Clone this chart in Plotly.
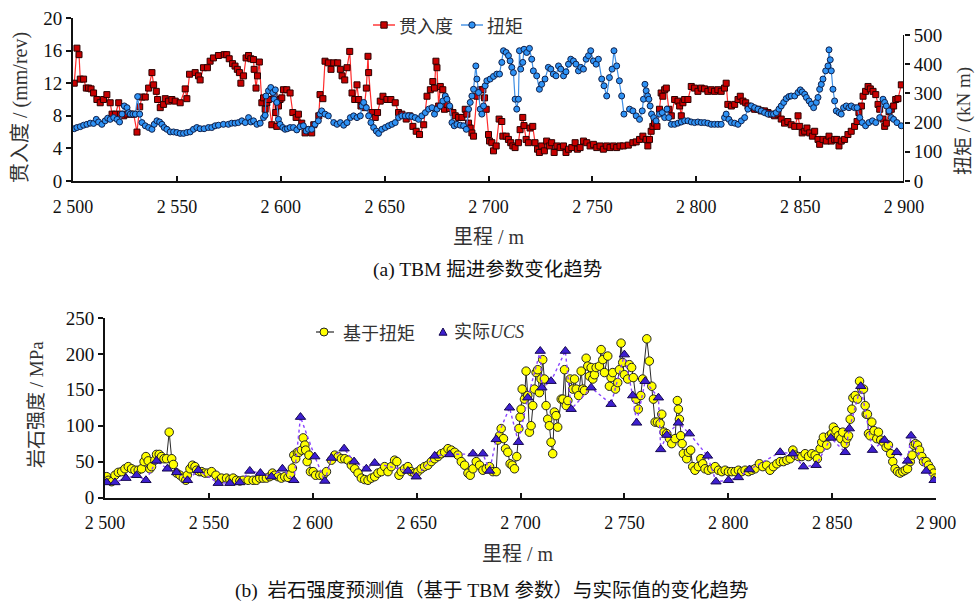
import plotly.graph_objects as go

# ---------------- data ----------------
# (a) penetration rate, mm/rev
pen_km = [2500.6, 2501.9, 2502.9, 2503.5, 2505.1, 2506.4, 2507.5, 2508.7, 2509.9, 2511.5,
          2513.1, 2514.7, 2516.3, 2517.9, 2518.8, 2520.4, 2522.0, 2522.8, 2524.4, 2526.0,
          2527.6, 2529.2, 2530.8, 2532.1, 2533.2, 2534.8, 2536.4, 2538.0, 2538.8, 2540.1,
          2540.7, 2542.0, 2543.6, 2544.4, 2546.0, 2547.6, 2549.2, 2551.6, 2554.0, 2554.8,
          2556.1, 2558.8, 2560.4, 2561.2, 2562.8, 2564.7, 2566.0, 2567.6, 2570.0, 2572.8,
          2574.0, 2575.2, 2576.8, 2578.0, 2579.1, 2580.1, 2580.8, 2582.1, 2583.3, 2584.5,
          2585.6, 2586.9, 2587.2, 2588.1, 2588.8, 2589.7, 2590.9, 2591.7, 2592.5, 2593.3,
          2594.1, 2595.7, 2596.8, 2597.6, 2598.1, 2598.9, 2599.7, 2600.5, 2601.3, 2602.9,
          2604.5, 2605.8, 2607.4, 2608.5, 2610.1, 2611.7, 2612.5, 2614.9, 2615.9, 2618.3,
          2618.9, 2620.3, 2621.3, 2622.9, 2624.2, 2625.5, 2627.4, 2628.7, 2629.5, 2630.8,
          2631.9, 2633.2, 2634.3, 2635.6, 2636.7, 2637.5, 2638.6, 2640.2, 2641.2, 2642.0,
          2642.3, 2643.9, 2645.5, 2646.6, 2647.9, 2649.2, 2651.1, 2653.0, 2655.1, 2656.7,
          2658.3, 2660.4, 2662.0, 2663.6, 2665.2, 2666.8, 2668.8, 2670.4, 2672.0, 2673.2,
          2674.0, 2674.7, 2675.2, 2676.0, 2676.8, 2678.0, 2678.8, 2680.0, 2681.3, 2682.9,
          2684.0, 2685.6, 2687.2, 2688.8, 2689.6, 2690.4, 2691.2, 2692.0, 2692.8, 2694.4,
          2696.0, 2697.3, 2698.1, 2698.9, 2700.0, 2700.5, 2701.6, 2702.4, 2703.7, 2705.1,
          2706.4, 2706.9, 2708.5, 2709.6, 2710.7, 2711.7, 2712.8, 2714.4, 2715.2, 2716.5,
          2717.1, 2718.1, 2719.2, 2720.0, 2721.3, 2722.4, 2723.6, 2724.5, 2725.6, 2726.9,
          2728.0, 2729.3, 2730.4, 2731.6, 2732.9, 2734.5, 2736.1, 2737.3, 2738.5, 2740.1,
          2741.7, 2742.8, 2744.1, 2745.7, 2747.3, 2748.9, 2750.5, 2752.1, 2753.7, 2755.3,
          2756.9, 2758.5, 2760.1, 2761.7, 2763.3, 2764.9, 2767.3, 2769.5, 2771.1, 2772.7,
          2774.3, 2775.9, 2776.7, 2777.5, 2778.3, 2779.1, 2779.9, 2781.1, 2782.3, 2783.1,
          2783.9, 2784.8, 2785.6, 2786.8, 2788.0, 2789.6, 2791.2, 2792.0, 2792.8, 2793.6,
          2794.4, 2796.0, 2797.6, 2799.2, 2800.8, 2802.4, 2804.0, 2805.6, 2807.2, 2808.8,
          2810.4, 2812.0, 2813.6, 2814.4, 2815.2, 2816.9, 2818.5, 2820.1, 2821.2, 2822.5,
          2823.8, 2824.9, 2826.5, 2828.1, 2829.7, 2831.3, 2832.9, 2834.5, 2836.1, 2837.7,
          2839.3, 2840.9, 2842.5, 2844.1, 2845.7, 2847.4, 2849.0, 2849.8, 2851.0, 2852.2,
          2853.3, 2854.6, 2855.9, 2857.0, 2858.6, 2859.4, 2861.0, 2862.6, 2863.9, 2865.0,
          2866.6, 2867.7, 2868.7, 2869.8, 2871.4, 2873.0, 2874.6, 2876.2, 2877.4, 2878.3,
          2879.5, 2880.3, 2881.5, 2882.7, 2883.8, 2885.1, 2886.4, 2887.5, 2888.3, 2889.9,
          2890.7, 2891.5, 2892.8, 2893.9, 2895.0, 2896.0, 2897.1, 2898.7]
pen_val = [12.0, 16.3, 15.5, 12.5, 12.5, 11.4, 11.4, 11.3, 10.8, 10.0,
           9.6, 10.0, 10.6, 9.6, 8.2, 8.2, 9.6, 8.2, 8.0, 8.2,
           8.2, 8.2, 6.0, 9.1, 10.3, 10.3, 11.4, 13.3, 11.8, 11.0,
           10.0, 9.0, 9.4, 10.1, 9.8, 10.0, 9.8, 9.6, 11.3, 10.1,
           13.1, 13.3, 12.9, 12.4, 13.9, 13.9, 14.7, 15.1, 15.4, 15.5,
           15.5, 15.0, 14.4, 14.1, 13.7, 13.3, 12.0, 12.9, 15.1, 15.4,
           15.0, 14.9, 13.7, 11.4, 12.9, 14.6, 9.6, 10.2, 8.8, 9.6,
           10.0, 6.9, 10.4, 8.4, 6.7, 9.2, 10.0, 10.2, 11.2, 11.2,
           10.8, 8.4, 7.8, 8.2, 7.1, 5.9, 6.3, 5.9, 6.9, 8.0,
           10.6, 10.1, 14.7, 14.5, 13.7, 14.5, 14.5, 13.7, 12.9, 12.4,
           13.9, 15.9, 10.8, 10.0, 11.8, 10.0, 9.2, 9.0, 11.4, 15.3,
           13.3, 8.4, 7.8, 8.4, 9.8, 10.4, 10.0, 10.0, 9.6, 8.4,
           8.2, 7.6, 8.0, 6.7, 6.1, 5.7, 6.9, 10.4, 11.2, 12.2,
           11.4, 14.7, 13.9, 9.2, 11.6, 11.2, 8.8, 9.4, 8.9, 8.4,
           8.0, 7.8, 7.8, 8.8, 8.2, 7.1, 6.5, 5.9, 5.5, 10.4,
           11.2, 11.2, 10.2, 8.8, 5.7, 4.9, 4.7, 3.7, 4.3, 7.6,
           7.3, 5.5, 5.5, 5.1, 4.7, 4.3, 4.1, 4.7, 6.3, 7.8,
           6.8, 5.1, 4.7, 6.5, 6.7, 4.7, 3.9, 3.5, 4.3, 3.7,
           4.9, 4.3, 4.7, 3.5, 4.3, 4.1, 4.3, 3.5, 3.9, 4.1,
           4.7, 3.9, 4.1, 4.9, 4.7, 4.3, 4.5, 4.1, 4.3, 3.9,
           4.3, 4.1, 4.3, 4.1, 4.3, 4.3, 4.4, 4.7, 4.8, 5.1,
           5.5, 5.1, 4.3, 5.1, 6.1, 6.7, 7.1, 6.7, 8.8, 10.8,
           10.4, 11.2, 11.4, 8.8, 8.0, 10.0, 9.8, 9.2, 8.0, 9.6,
           10.0, 10.0, 11.6, 11.4, 11.0, 11.4, 11.3, 11.0, 11.2, 11.0,
           11.2, 11.0, 11.4, 12.0, 9.4, 9.2, 9.4, 10.0, 10.4, 9.8,
           9.6, 9.2, 9.0, 8.8, 8.8, 8.6, 8.6, 8.4, 8.2, 8.0,
           8.2, 7.6, 7.1, 7.3, 6.9, 6.7, 8.0, 6.7, 5.9, 6.1,
           6.5, 5.9, 5.5, 6.1, 5.1, 4.5, 5.1, 4.9, 5.5, 4.9,
           5.1, 5.1, 4.3, 4.9, 5.1, 5.7, 6.1, 6.7, 7.3, 8.4,
           9.2, 10.4, 11.0, 11.6, 11.3, 11.0, 10.6, 9.4, 8.8, 7.6,
           6.7, 7.1, 8.5, 8.8, 9.2, 10.0, 10.1, 11.8]

# (a) cutterhead torque, kN m
tq_km = [2500.6, 2501.9, 2503.5, 2505.1, 2506.7, 2508.3, 2509.9, 2511.2, 2512.3, 2513.9,
         2515.5, 2516.7, 2517.9, 2519.6, 2521.2, 2522.4, 2523.6, 2524.7, 2526.0, 2526.8,
         2527.6, 2528.8, 2530.0, 2531.1, 2532.1, 2533.2, 2534.8, 2536.4, 2538.0, 2539.1,
         2540.4, 2541.7, 2542.8, 2543.9, 2545.2, 2546.8, 2548.4, 2550.0, 2551.6, 2553.2,
         2554.8, 2556.4, 2558.0, 2559.6, 2561.2, 2563.1, 2565.2, 2566.8, 2568.4, 2570.0,
         2572.4, 2574.8, 2576.4, 2578.0, 2579.6, 2581.3, 2582.9, 2584.5, 2585.6, 2586.9,
         2588.5, 2590.1, 2591.7, 2592.5, 2592.9, 2594.1, 2595.2, 2596.2, 2596.8, 2597.4,
         2598.1, 2598.9, 2599.7, 2601.0, 2602.1, 2603.2, 2604.5, 2606.1, 2607.7, 2609.3,
         2610.9, 2612.2, 2613.3, 2614.9, 2616.5, 2618.1, 2618.9, 2619.7, 2621.3, 2622.9,
         2625.5, 2627.1, 2628.7, 2630.3, 2631.9, 2633.5, 2635.1, 2636.7, 2638.3, 2639.1,
         2639.9, 2641.2, 2642.3, 2643.4, 2644.7, 2646.0, 2647.1, 2648.7, 2650.3, 2651.9,
         2653.5, 2655.1, 2656.7, 2658.3, 2659.9, 2661.5, 2663.1, 2664.7, 2666.3, 2667.9,
         2669.6, 2671.2, 2672.8, 2674.0, 2675.2, 2676.8, 2678.0, 2679.2, 2680.0, 2681.3,
         2682.4, 2683.5, 2684.8, 2686.4, 2688.0, 2689.3, 2690.4, 2691.2, 2692.0, 2692.8,
         2693.9, 2694.4, 2695.2, 2696.0, 2696.8, 2697.6, 2698.4, 2699.2, 2700.8, 2702.4,
         2704.0, 2705.3, 2706.4, 2707.2, 2708.5, 2709.6, 2710.4, 2711.2, 2712.0, 2712.8,
         2713.6, 2714.4, 2714.9, 2715.5, 2716.5, 2717.1, 2718.4, 2719.7, 2720.8, 2721.6,
         2723.2, 2724.5, 2725.6, 2727.2, 2728.8, 2730.0, 2731.2, 2732.5, 2733.7, 2734.8,
         2736.1, 2737.3, 2738.5, 2739.6, 2740.9, 2742.1, 2743.3, 2744.4, 2745.7, 2747.0,
         2748.1, 2749.2, 2750.5, 2751.8, 2752.9, 2754.5, 2755.6, 2756.9, 2758.2, 2759.5,
         2760.4, 2761.7, 2763.0, 2764.1, 2765.2, 2767.9, 2769.5, 2771.1, 2772.7, 2774.0,
         2774.6, 2775.3, 2775.9, 2776.6, 2777.2, 2777.8, 2778.5, 2779.5, 2780.7, 2782.3,
         2783.6, 2784.8, 2785.9, 2786.8, 2788.0, 2789.6, 2791.2, 2792.8, 2794.4, 2796.0,
         2797.6, 2799.2, 2800.8, 2802.4, 2804.0, 2805.6, 2807.2, 2808.8, 2810.4, 2812.0,
         2813.6, 2814.4, 2815.7, 2816.9, 2818.5, 2820.1, 2821.7, 2823.3, 2824.9, 2826.5,
         2828.1, 2829.7, 2831.3, 2832.9, 2834.5, 2836.1, 2837.2, 2838.5, 2839.8, 2840.9,
         2842.1, 2843.3, 2844.6, 2845.7, 2847.4, 2849.0, 2850.1, 2851.0, 2852.2, 2853.0,
         2854.3, 2855.4, 2856.5, 2857.8, 2858.6, 2859.4, 2860.2, 2861.0, 2862.3, 2863.4,
         2863.9, 2864.5, 2865.0, 2865.8, 2866.6, 2867.4, 2868.7, 2869.8, 2870.9, 2872.2,
         2873.5, 2874.6, 2876.2, 2877.4, 2878.7, 2879.9, 2881.5, 2883.1, 2884.8, 2886.4,
         2888.3, 2889.9, 2890.7, 2891.5, 2892.8, 2893.9, 2895.0, 2896.6, 2898.7]
tq_val = [179, 183, 186, 191, 194, 198, 197, 211, 202, 194,
          206, 215, 211, 217, 211, 202, 229, 257, 251, 234,
          229, 229, 229, 289, 229, 200, 189, 183, 177, 194,
          206, 202, 194, 183, 177, 168, 168, 166, 163, 163,
          166, 168, 177, 183, 179, 179, 183, 183, 189, 191,
          194, 194, 198, 198, 200, 206, 200, 217, 202, 206,
          194, 198, 217, 225, 291, 309, 320, 303, 280, 312,
          269, 211, 194, 183, 177, 179, 183, 183, 175, 186,
          189, 171, 177, 177, 194, 206, 229, 240, 229, 223,
          200, 194, 200, 191, 200, 217, 223, 217, 223, 257,
          269, 251, 223, 200, 183, 171, 163, 177, 183, 189,
          194, 200, 217, 223, 223, 223, 221, 217, 211, 223,
          234, 246, 251, 229, 246, 257, 274, 291, 280, 257,
          200, 189, 194, 191, 189, 177, 246, 269, 291, 314,
          394, 349, 303, 246, 229, 257, 326, 343, 349, 358,
          366, 366, 406, 446, 440, 429, 411, 389, 371, 280,
          246, 280, 446, 383, 406, 451, 440, 454, 417, 377,
          360, 314, 331, 349, 389, 383, 366, 360, 394, 383,
          360, 374, 400, 417, 411, 400, 377, 389, 383, 417,
          429, 446, 411, 400, 417, 349, 326, 291, 354, 383,
          446, 394, 343, 291, 229, 246, 240, 223, 211, 240,
          280, 331, 309, 291, 280, 257, 229, 217, 206, 229,
          234, 217, 246, 217, 194, 194, 198, 202, 206, 206,
          202, 200, 202, 200, 200, 198, 194, 194, 194, 194,
          217, 229, 211, 200, 198, 194, 206, 217, 246, 257,
          251, 246, 240, 234, 229, 229, 229, 234, 246, 257,
          269, 282, 289, 291, 291, 303, 312, 305, 297, 286,
          274, 263, 251, 269, 286, 314, 331, 349, 377, 394,
          449, 415, 377, 314, 274, 240, 234, 229, 251, 257,
          251, 257, 251, 251, 217, 200, 189, 200, 206, 200,
          217, 280, 269, 257, 240, 217, 211, 200, 189]

# (b) rock strength predicted from torque, MPa
pred_km = [2500.8, 2501.6, 2503.2, 2504.8, 2506.4, 2508.0, 2509.6, 2511.2, 2512.8, 2514.4,
           2516.0, 2517.6, 2518.8, 2519.7, 2520.8, 2521.6, 2522.4, 2524.0, 2524.8, 2526.1,
           2527.2, 2528.4, 2529.6, 2530.9, 2532.1, 2532.9, 2534.5, 2536.1, 2537.7, 2538.9,
           2539.6, 2540.9, 2542.1, 2543.3, 2544.1, 2545.4, 2546.5, 2548.1, 2549.7, 2551.3,
           2553.4, 2555.0, 2556.1, 2558.5, 2560.1, 2561.7, 2563.3, 2564.9, 2566.5, 2568.9,
           2571.3, 2572.9, 2574.5, 2576.1, 2577.7, 2579.3, 2580.6, 2581.7, 2583.3, 2584.9,
           2586.5, 2588.1, 2589.3, 2590.2, 2590.9, 2591.8, 2592.6, 2593.4, 2594.6, 2595.4,
           2596.2, 2596.6, 2597.3, 2598.2, 2598.9, 2600.2, 2601.4, 2603.4, 2605.0, 2606.6,
           2609.0, 2610.6, 2612.2, 2613.8, 2615.4, 2617.0, 2618.6, 2620.2, 2621.8, 2623.4,
           2625.0, 2626.6, 2628.2, 2629.8, 2631.4, 2633.0, 2634.6, 2636.2, 2637.8, 2639.4,
           2640.5, 2641.5, 2642.6, 2644.2, 2645.8, 2647.4, 2649.0, 2650.6, 2652.2, 2653.8,
           2655.4, 2657.1, 2658.7, 2660.3, 2661.9, 2663.5, 2665.1, 2666.7, 2668.3, 2669.9,
           2671.5, 2673.1, 2674.7, 2675.8, 2677.1, 2678.7, 2680.3, 2681.9, 2683.5, 2685.1,
           2686.7, 2688.3, 2689.1, 2689.9, 2690.7, 2691.8, 2692.8, 2693.9, 2695.0, 2696.0,
           2697.1, 2698.2, 2699.2, 2699.8, 2700.3, 2700.8, 2701.9, 2702.7, 2703.5, 2704.3,
           2705.1, 2705.9, 2706.7, 2707.5, 2708.3, 2709.1, 2709.9, 2710.7, 2711.5, 2712.3,
           2713.1, 2713.9, 2714.7, 2715.5, 2716.3, 2717.1, 2717.9, 2719.6, 2720.4, 2721.2,
           2722.0, 2722.8, 2723.9, 2725.2, 2726.0, 2726.8, 2728.0, 2729.2, 2730.0, 2730.8,
           2731.6, 2732.4, 2733.2, 2734.0, 2734.8, 2735.6, 2736.4, 2738.0, 2738.8, 2739.6,
           2740.4, 2742.0, 2742.8, 2743.6, 2744.4, 2745.7, 2746.8, 2747.6, 2748.4, 2749.2,
           2750.0, 2751.6, 2752.4, 2753.5, 2754.3, 2755.6, 2756.7, 2757.9, 2758.8, 2760.8,
           2762.0, 2763.2, 2764.0, 2764.8, 2765.9, 2767.2, 2768.0, 2769.1, 2770.4, 2771.7,
           2772.8, 2774.4, 2775.5, 2776.0, 2776.5, 2777.1, 2777.8, 2778.4, 2780.0, 2780.8,
           2781.9, 2782.9, 2784.0, 2785.6, 2786.8, 2787.7, 2788.8, 2790.4, 2792.1, 2793.7,
           2795.3, 2796.9, 2798.5, 2800.1, 2801.7, 2803.3, 2804.9, 2806.5, 2808.1, 2809.7,
           2811.3, 2812.9, 2815.0, 2816.6, 2818.5, 2820.1, 2821.7, 2823.4, 2825.0, 2826.6,
           2828.2, 2829.8, 2831.1, 2832.2, 2833.8, 2835.4, 2837.0, 2838.6, 2840.2, 2841.8,
           2842.9, 2844.2, 2845.0, 2845.8, 2847.4, 2848.7, 2849.8, 2850.6, 2851.9, 2853.0,
           2854.2, 2855.1, 2856.3, 2857.1, 2857.9, 2858.7, 2859.5, 2860.0, 2861.1, 2862.2,
           2863.2, 2864.3, 2865.1, 2865.9, 2866.4, 2867.0, 2867.5, 2868.3, 2869.1, 2870.2,
           2871.5, 2872.3, 2873.4, 2874.7, 2876.0, 2877.1, 2878.2, 2879.2, 2880.3, 2881.5,
           2882.7, 2884.0, 2885.2, 2886.3, 2887.6, 2888.5, 2889.2, 2890.1, 2891.1, 2892.1,
           2893.2, 2894.0, 2895.3, 2896.4, 2897.5, 2898.8, 2899.6]
pred_ucs = [29, 24, 22, 31, 35, 36, 40, 43, 40, 38,
            38, 40, 50, 57, 51, 40, 43, 52, 60, 60,
            57, 54, 54, 91, 54, 46, 34, 31, 27, 24,
            31, 40, 45, 43, 38, 36, 36, 34, 34, 36,
            31, 24, 27, 27, 25, 27, 24, 23, 24, 24,
            24, 24, 27, 27, 27, 29, 34, 31, 29, 27,
            29, 28, 32, 41, 59, 54, 63, 63, 66, 83,
            73, 66, 50, 59, 36, 36, 31, 31, 31, 36,
            52, 59, 57, 54, 54, 52, 45, 40, 34, 27,
            25, 24, 27, 29, 34, 36, 43, 36, 43, 52,
            50, 31, 36, 40, 43, 36, 34, 36, 40, 43,
            45, 50, 54, 57, 61, 63, 68, 66, 63, 59,
            50, 45, 34, 31, 40, 50, 45, 38, 40, 43,
            36, 36, 80, 86, 96, 82, 68, 63, 47, 45,
            40, 57, 96, 112, 123, 151, 137, 176, 142, 91,
            100, 128, 151, 174, 178, 146, 165, 192, 165, 128,
            109, 100, 77, 61, 119, 114, 98, 137, 137, 178,
            128, 135, 165, 151, 165, 151, 142, 176, 151, 149,
            194, 183, 169, 181, 165, 171, 181, 183, 206, 192,
            174, 197, 155, 167, 174, 151, 160, 178, 215, 188,
            171, 165, 185, 181, 167, 137, 123, 142, 165, 221,
            190, 155, 137, 105, 105, 103, 116, 91, 89, 82,
            75, 82, 135, 123, 109, 86, 75, 61, 54, 63,
            66, 43, 38, 43, 54, 47, 40, 38, 40, 43,
            38, 36, 38, 36, 36, 36, 38, 36, 38, 36,
            38, 40, 47, 43, 45, 38, 43, 47, 50, 50,
            52, 54, 66, 59, 57, 57, 61, 57, 61, 59,
            54, 68, 77, 84, 73, 86, 89, 98, 93, 86,
            82, 91, 75, 82, 86, 109, 123, 139, 142, 137,
            162, 151, 151, 128, 116, 116, 89, 86, 105, 93,
            82, 91, 80, 77, 70, 73, 61, 50, 40, 36,
            34, 36, 38, 40, 50, 59, 73, 75, 73, 66,
            57, 50, 50, 45, 40, 34, 27]

# (b) measured UCS, MPa
act_km = [2500.8, 2504.8, 2510.1, 2515.2, 2519.7, 2524.8, 2530.0, 2534.5, 2539.7, 2544.9,
          2554.5, 2560.1, 2564.9, 2569.7, 2574.8, 2580.1, 2585.4, 2590.9, 2594.1, 2601.0,
          2605.8, 2609.0, 2615.1, 2619.9, 2625.8, 2629.8, 2645.8, 2649.8, 2658.7, 2665.9,
          2677.1, 2681.9, 2685.1, 2688.3, 2694.7, 2699.0, 2703.5, 2709.5, 2710.3, 2714.7,
          2721.6, 2724.4, 2734.0, 2743.6, 2750.0, 2754.0, 2755.9, 2760.0, 2766.4, 2767.5,
          2770.4, 2776.0, 2781.3, 2790.0, 2794.1, 2800.1, 2804.9, 2810.2, 2825.0, 2831.1,
          2836.2, 2842.3, 2849.4, 2856.3, 2858.3, 2863.8, 2869.4, 2875.2, 2881.1, 2886.3,
          2888.0, 2895.3, 2899.1]
act_ucs = [21, 21, 27, 31, 24, 51, 40, 35, 24, 38,
           20, 20, 21, 37, 34, 29, 40, 24, 112, 57,
           23, 55, 68, 50, 40, 48, 37, 29, 58, 60,
           61, 61, 37, 81, 125, 77, 139, 204, 153, 162,
           204, 123, 153, 130, 199, 142, 104, 162, 139, 67,
           87, 104, 89, 58, 22, 24, 28, 39, 63, 61,
           43, 45, 83, 63, 96, 155, 66, 80, 63, 51,
           86, 37, 24]

x_ticks = [2500, 2550, 2600, 2650, 2700, 2750, 2800, 2850, 2900]
x_ticktext = ["2 500", "2 550", "2 600", "2 650", "2 700", "2 750", "2 800", "2 850", "2 900"]
pen_ticks = [0, 4, 8, 12, 16, 20]
tq_ticks = [0, 100, 200, 300, 400, 500]
ucs_ticks = [0, 50, 100, 150, 200, 250]

# ---------------- styling ----------------
W, H = 976, 604
def px(v):
    return v / W
def py(v):
    return 1 - v / H

NUM = "Liberation Serif, 'Times New Roman', serif"
MIX = "Liberation Serif, 'Noto Sans CJK SC', serif"
CJK = "'Noto Sans CJK SC', sans-serif"

RED_LINE, RED_FILL = "#ff2b2b", "#c80000"
BLUE_LINE, BLUE_FILL = "#3f8fe4", "#2f93f5"
YEL_FILL = "#ffff00"
TRI_FILL, TRI_LINE = "#3d1fd0", "#8a44ff"

fig = go.Figure()
fig.add_trace(go.Scatter(
    x=pen_km, y=pen_val, mode="lines+markers", xaxis="x", yaxis="y",
    line=dict(color=RED_LINE, width=1.2),
    marker=dict(symbol="square", size=6, color=RED_FILL, line=dict(color="#2a0000", width=1)),
    showlegend=False))
fig.add_trace(go.Scatter(
    x=tq_km, y=tq_val, mode="lines+markers", xaxis="x", yaxis="y2",
    line=dict(color=BLUE_LINE, width=1.2),
    marker=dict(symbol="circle", size=6, color=BLUE_FILL, line=dict(color="#10204a", width=1)),
    showlegend=False))
fig.add_trace(go.Scatter(
    x=pred_km, y=pred_ucs, mode="lines+markers", xaxis="x2", yaxis="y3",
    line=dict(color="#2a2a2a", width=1),
    marker=dict(symbol="circle", size=8.5, color=YEL_FILL, line=dict(color="#222222", width=1)),
    showlegend=False))
fig.add_trace(go.Scatter(
    x=act_km, y=act_ucs, mode="lines", xaxis="x2", yaxis="y3",
    line=dict(color=TRI_LINE, width=1.4, dash="dot"), showlegend=False))
fig.add_trace(go.Scatter(
    x=act_km, y=act_ucs, mode="markers", xaxis="x2", yaxis="y3",
    marker=dict(symbol="triangle-up", size=9, color=TRI_FILL, line=dict(color="#160850", width=1)),
    showlegend=False))

axis_common = dict(showgrid=False, zeroline=False, showline=True, linecolor="#111111",
                   linewidth=2, tickcolor="#111111", tickwidth=1.5, ticklen=5, automargin=False)
xcommon = dict(axis_common, range=[2500, 2900], tickmode="array", tickvals=x_ticks,
               ticktext=x_ticktext, ticks="inside", ticklabelstandoff=8,
               tickfont=dict(family=NUM, size=18, color="#111111"))
ycommon = dict(axis_common, ticks="outside", tickfont=dict(family=NUM, size=19, color="#111111"))

fig.update_layout(
    width=W, height=H, autosize=False,
    margin=dict(l=0, r=0, t=0, b=0, pad=0, autoexpand=False),
    paper_bgcolor="white", plot_bgcolor="white", showlegend=False,
    xaxis=dict(xcommon, domain=[px(73), px(904)], anchor="y"),
    yaxis=dict(ycommon, domain=[py(181), py(18)], anchor="x", range=[0, 20],
               tickmode="array", tickvals=pen_ticks),
    yaxis2=dict(ycommon, overlaying="y", side="right", anchor="x", range=[0, 558],
                tickmode="array", tickvals=tq_ticks, showline=False),
    xaxis2=dict(xcommon, domain=[px(105), px(936)], anchor="y3"),
    yaxis3=dict(ycommon, domain=[py(497.5), py(318)], anchor="x2", range=[0, 250],
                tickmode="array", tickvals=ucs_ticks),
)

shapes = []
# right axis line of the torque scale (0-500 only)
shapes.append(dict(type="line", xref="x", yref="y2", x0=2900, x1=2900, y0=0, y1=500,
                   line=dict(color="#111111", width=2)))

def leg_line(x0, x1, y, color, width=1.4, dash="solid"):
    shapes.append(dict(type="line", xref="paper", yref="paper", x0=px(x0), x1=px(x1),
                       y0=py(y), y1=py(y), line=dict(color=color, width=width, dash=dash)))

def leg_marker(kind, x, y, r, fill, edge):
    base = dict(xref="paper", yref="paper", xsizemode="pixel", ysizemode="pixel",
                xanchor=px(x), yanchor=py(y), fillcolor=fill, line=dict(color=edge, width=1))
    if kind == "tri":
        base.update(type="path", path=f"M {-r} {-r*0.8} L {r} {-r*0.8} L 0 {r} Z")
    else:
        base.update(type="rect" if kind == "sq" else "circle", x0=-r, x1=r, y0=-r, y1=r)
    shapes.append(base)

# top legend
leg_line(373, 395, 25, RED_LINE)
leg_marker("sq", 384, 25, 3.2, RED_FILL, "#2a0000")
leg_line(461, 483, 25, BLUE_LINE)
leg_marker("circ", 472, 25, 3.2, BLUE_FILL, "#10204a")
# bottom legend
leg_line(316, 334, 332, "#2a2a2a", 1.2)
leg_marker("circ", 324, 332, 4, YEL_FILL, "#222222")
leg_marker("tri", 443, 332, 4, TRI_FILL, "#160850")
fig.update_layout(shapes=shapes)

ann = []
def text(s, x, y, size, family=MIX, angle=0, xanchor="center", color="#222222"):
    ann.append(dict(text=s, x=px(x), y=py(y), xref="paper", yref="paper", showarrow=False,
                    xanchor=xanchor, yanchor="middle", textangle=angle,
                    font=dict(family=family, size=size, color=color)))

text("贯入度", 397, 25, 18, CJK, xanchor="left", color="#333333")
text("扭矩", 485, 25, 18, CJK, xanchor="left", color="#333333")
text("基于扭矩", 341, 332, 18, CJK, xanchor="left", color="#333333")
text("实际<i>UCS</i>", 452, 332, 18, MIX, xanchor="left", color="#333333")

text("贯入度 / (mm/rev)", 20, 108, 20, MIX, angle=-90, color="#333333")
text("扭矩 / (kN m)", 964, 121, 19, MIX, angle=-90, color="#333333")
text("岩石强度 / MPa", 36, 405, 19, MIX, angle=-90, color="#333333")
text("里程 / m", 489, 237, 20, MIX, color="#333333")
text("里程 / m", 518, 554, 20, MIX, color="#333333")
text("(a) TBM 掘进参数变化趋势", 487, 270, 19.5, MIX, color="#111111")
text("(b)  岩石强度预测值（基于 TBM 参数）与实际值的变化趋势", 492, 591, 19.5, MIX, color="#111111")
fig.update_layout(annotations=ann)

fig.write_html("out.html", config={"displayModeBar": False},
               post_script="document.body.style.margin='0px';document.body.style.overflow='hidden';")
